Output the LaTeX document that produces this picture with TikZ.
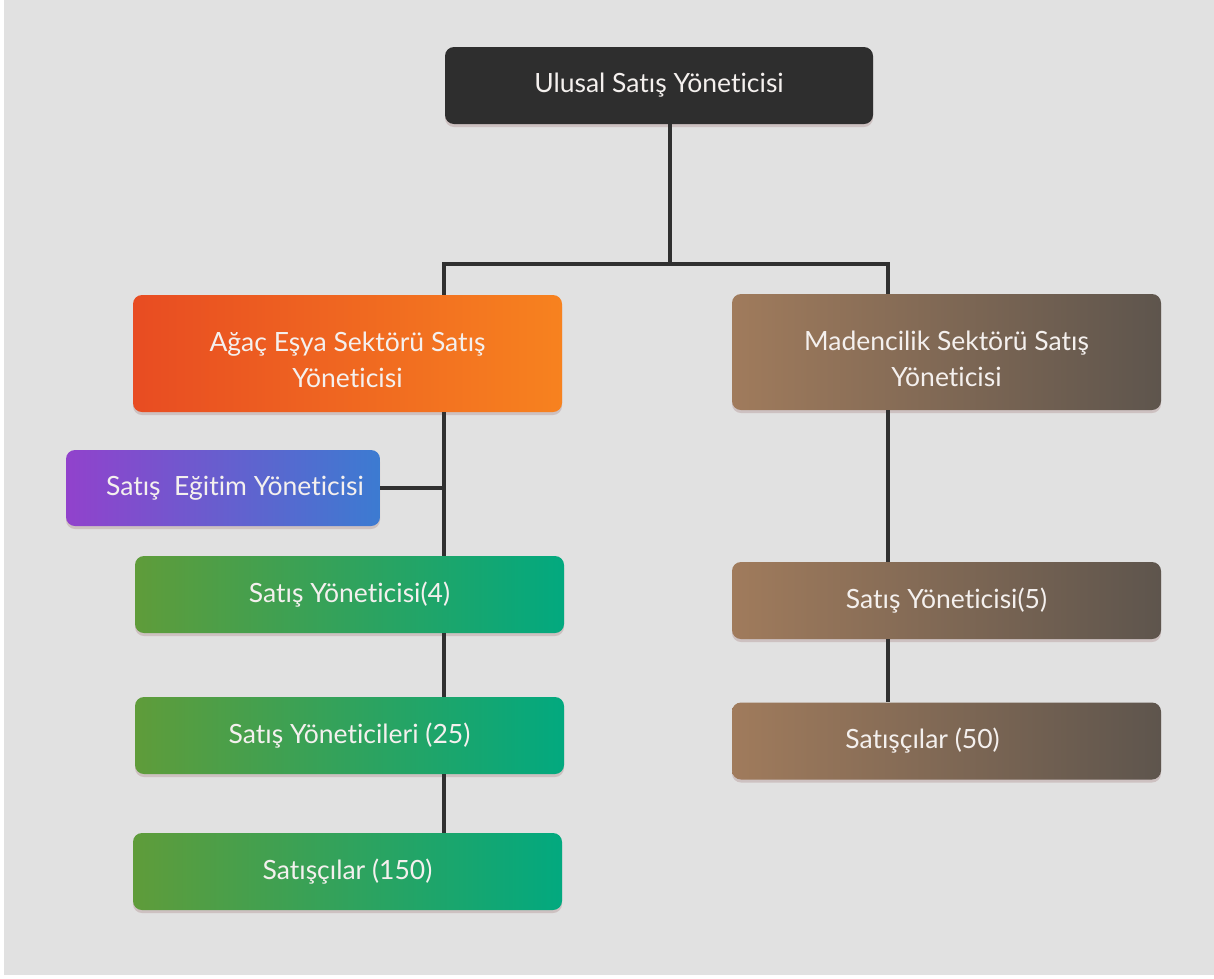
\documentclass[tikz,border=0pt]{standalone}
\usepackage{fontspec}
\setmainfont[Ligatures=NoCommon]{Lato}
\usetikzlibrary{shadows}

\definecolor{pagebg}{HTML}{E1E1E1}
\definecolor{linkcol}{HTML}{303030}
\definecolor{topcol}{HTML}{2E2E2E}
\definecolor{orangeL}{HTML}{E84C22}
\definecolor{orangeR}{HTML}{F7821F}
\definecolor{brownL}{HTML}{A07B5C}
\definecolor{brownR}{HTML}{5E554D}
\definecolor{greenL}{HTML}{5F9C3A}
\definecolor{greenR}{HTML}{02A97F}
\definecolor{purpleL}{HTML}{9142CC}
\definecolor{purpleR}{HTML}{3C7BD1}
\definecolor{textcol}{HTML}{F4F0EE}
\definecolor{shadowcol}{HTML}{C9B9B9}

% strut that lowers the first line of the two-line boxes a little
\newcommand{\firstline}{\rule{0pt}{33pt}}

\tikzset{
  x=1pt, y=-1pt,
  box/.style={rounded corners=9pt, minimum width=429pt, minimum height=77pt,
    inner sep=0pt, align=center, text=textcol, font=\fontsize{26.5}{36}\selectfont,
    drop shadow={shadow xshift=0pt, shadow yshift=-3pt, fill=shadowcol, opacity=0.8}},
  topbox/.style={box, fill=topcol, minimum width=428pt},
  orangebox/.style={box, left color=orangeL, right color=orangeR},
  brownbox/.style={box, left color=brownL, right color=brownR},
  greenbox/.style={box, left color=greenL, right color=greenR},
  purplebox/.style={box, left color=purpleL, right color=purpleR, minimum width=314pt, minimum height=76pt},
  link/.style={draw=linkcol, line width=4pt},
}

\begin{document}
\begin{tikzpicture}
  % page background
  \fill[white] (0,0) rectangle (1214,978);
  \fill[pagebg] (4,0) rectangle (1214,975);
  \useasboundingbox (0,0) rectangle (1214,978);

  % nodes
  \node[topbox] (top) at (659,85.5) {Ulusal Satış Yöneticisi};
  \node[orangebox, minimum height=117pt] (agac) at (347.5,353.5) {\firstline Ağaç Eşya Sektörü Satış\\Yöneticisi};
  \node[brownbox, minimum height=116pt] (maden) at (946.5,352) {\firstline Madencilik Sektörü Satış\\Yöneticisi};
  \node[purplebox] (egitim) at (223,488) {\hspace*{24pt}Satış\ \ Eğitim Yöneticisi};
  \node[greenbox] (g1) at (349.5,594.5) {Satış Yöneticisi(4)};
  \node[greenbox] (g2) at (349.5,735.5) {Satış Yöneticileri (25)};
  \node[greenbox] (g3) at (347.5,871.5) {Satışçılar (150)};
  \node[brownbox] (b1) at (946.5,600.5) {Satış Yöneticisi(5)};
  \node[brownbox] (b2) at (946.5,741) {Satışçılar (50)\hspace*{48pt}};

  % junction points of the tree
  \coordinate (jt) at (670,264);
  \coordinate (jl) at (444,264);
  \coordinate (jr) at (888,264);

  % connectors
  \draw[link] (top.south -| jt) -- (jt);
  \draw[link, line cap=rect] (jl) -- (jr);
  \draw[link] (jl) -- (jl |- agac.north);
  \draw[link] (jr) -- (jr |- maden.north);
  \draw[link] (agac.south -| jl) -- (g1.north -| jl);
  \draw[link] (egitim.east) -- (egitim.east -| jl);
  \draw[link] (g1.south -| jl) -- (g2.north -| jl);
  \draw[link] (g2.south -| jl) -- (g3.north -| jl);
  \draw[link] (maden.south -| jr) -- (b1.north -| jr);
  \draw[link] (b1.south -| jr) -- (b2.north -| jr);
\end{tikzpicture}
\end{document}
